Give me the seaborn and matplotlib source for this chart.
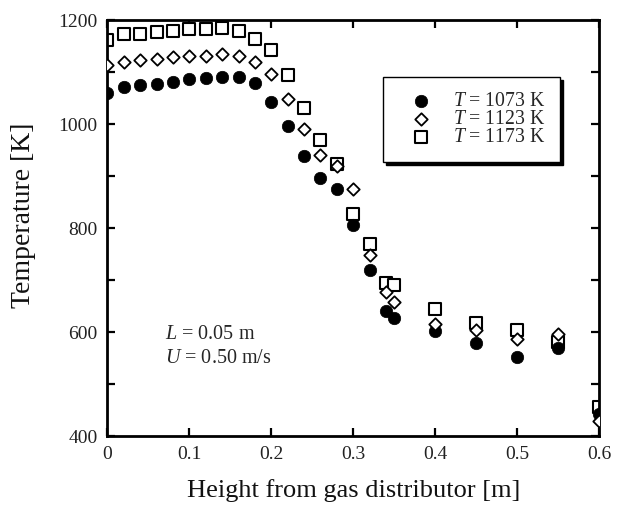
import numpy as np
import pandas as pd
import matplotlib
matplotlib.use("Agg")
import matplotlib.pyplot as plt
from matplotlib.ticker import MultipleLocator
import seaborn as sns

height = [0.00, 0.02, 0.04, 0.06, 0.08, 0.10, 0.12, 0.14, 0.16, 0.18, 0.20, 0.22,
          0.24, 0.26, 0.28, 0.30, 0.32, 0.34, 0.35, 0.40, 0.45, 0.50, 0.55, 0.60]
temp_1073 = [1059, 1071, 1075, 1077, 1081, 1086, 1089, 1091, 1091, 1079, 1043, 997,
             938, 897, 875, 806, 719, 640, 626, 602, 578, 551, 569, 442]
temp_1123 = [1113, 1120, 1123, 1125, 1128, 1130, 1131, 1134, 1131, 1120, 1096, 1049,
             990, 940, 920, 875, 748, 676, 658, 615, 604, 587, 597, 429]
temp_1173 = [1162, 1173, 1174, 1176, 1179, 1183, 1183, 1184, 1179, 1163, 1142, 1094,
             1030, 969, 924, 826, 769, 694, 690, 645, 617, 604, 581, 455]
series_labels = ["$T$ = 1073 K", "$T$ = 1123 K", "$T$ = 1173 K"]
x_ticks = [0, 0.1, 0.2, 0.3, 0.4, 0.5, 0.6]
x_tick_labels = ["0", "0.1", "0.2", "0.3", "0.4", "0.5", "0.6"]
y_ticks = [400, 600, 800, 1000, 1200]

sns.set_theme(style="ticks")
plt.rcParams["font.family"] = ["Liberation Serif", "DejaVu Serif"]
plt.rcParams["mathtext.fontset"] = "custom"
plt.rcParams["mathtext.rm"] = "Liberation Serif"
plt.rcParams["mathtext.it"] = "Liberation Serif:italic"

df = pd.DataFrame({"height": height, "t1073": temp_1073,
                   "t1123": temp_1123, "t1173": temp_1173})

fig = plt.figure(figsize=(6.17, 5.09), dpi=100)
ax = fig.add_axes([0.1742, 0.1434, 0.7966, 0.8173])

sns.scatterplot(data=df, x="height", y="t1073", ax=ax, marker="o", s=80,
                facecolor="black", edgecolor="black", linewidth=0.5,
                label=series_labels[0], zorder=3)
sns.scatterplot(data=df, x="height", y="t1123", ax=ax, marker="D", s=40,
                facecolor="white", edgecolor="black", linewidth=1.3,
                label=series_labels[1], zorder=4)
sns.scatterplot(data=df, x="height", y="t1173", ax=ax, marker="s", s=85,
                facecolor="white", edgecolor="black", linewidth=1.5,
                label=series_labels[2], zorder=2)

ax.set_xlim(0, 0.6)
ax.set_ylim(400, 1200)
ax.set_xticks(x_ticks)
ax.set_xticklabels(x_tick_labels)
ax.set_yticks(y_ticks)
ax.yaxis.set_minor_locator(MultipleLocator(100))

for sp in ax.spines.values():
    sp.set_visible(True)
    sp.set_linewidth(2.0)
    sp.set_color("black")
ax.tick_params(which="both", direction="in", top=True, right=True,
               length=6, width=1.6, color="black", labelsize=14,
               labelcolor="#222222", pad=7)

ax.set_xlabel("Height from gas distributor [m]", fontsize=19, labelpad=12,
              color="#111111")
ax.set_ylabel("Temperature [K]", fontsize=20, color="#111111")
ax.yaxis.set_label_coords(-0.146, 0.53)

ax.text(0.070, 586, "$L$ = 0.05 m", fontsize=14.5, ha="left", va="baseline")
ax.text(0.070, 540, "$U$ = 0.50 m/s", fontsize=14.5, ha="left", va="baseline")

leg = ax.legend(loc="upper left", bbox_to_anchor=(0.56, 0.862), borderaxespad=0,
                frameon=True, fancybox=False, edgecolor="black", framealpha=1,
                shadow={"color": "black", "alpha": 1}, fontsize=14.2,
                borderpad=0.75, handlelength=2.4, handletextpad=0.4,
                labelspacing=-0.05)
leg.get_frame().set_linewidth(1.0)

fig.savefig("out.png", dpi=100)
